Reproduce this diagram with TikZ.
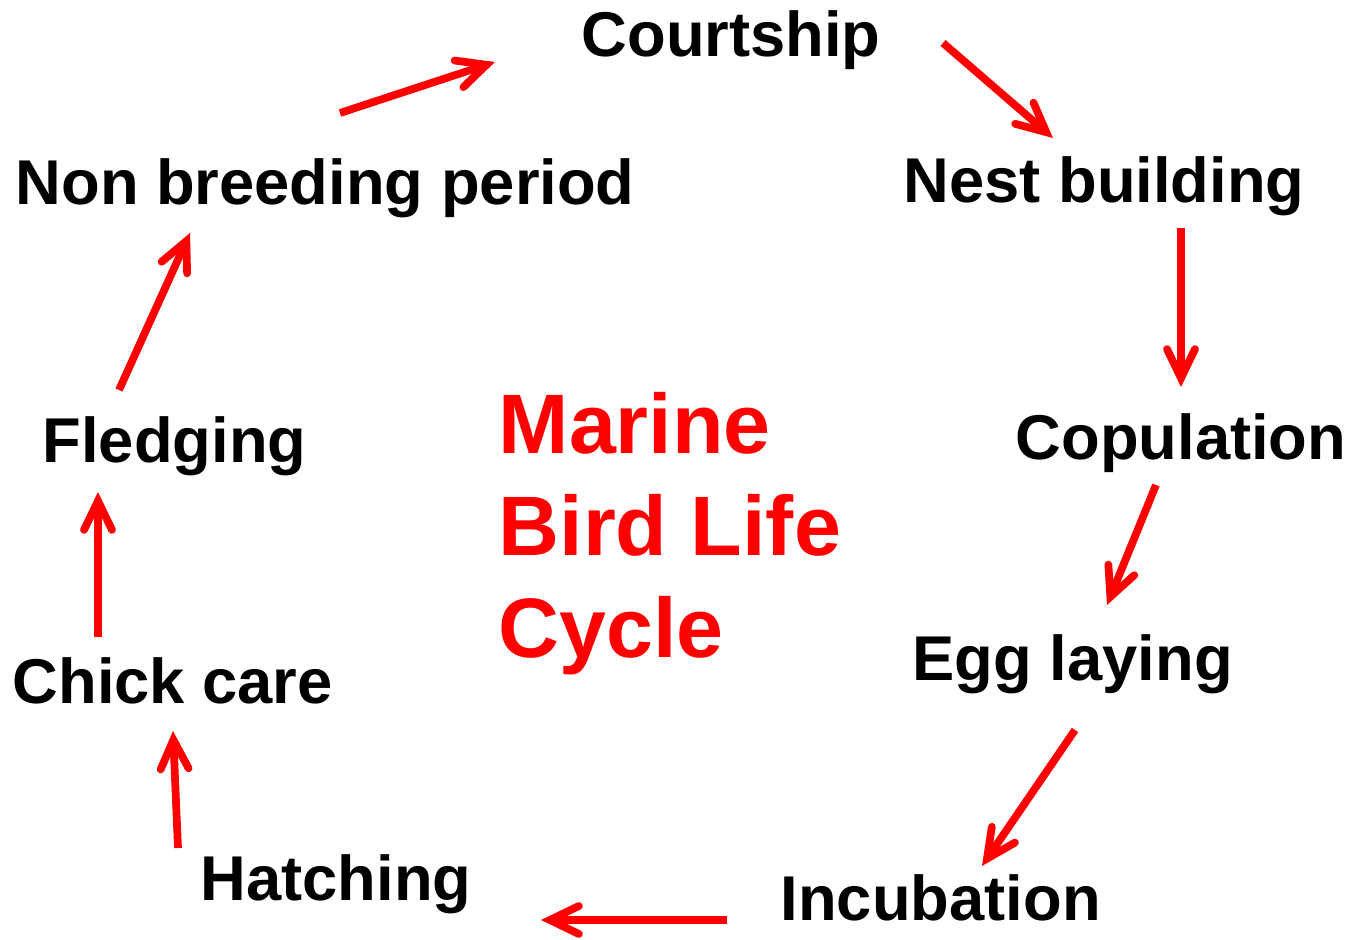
\documentclass[tikz,border=0pt]{standalone}
\usepackage{fontspec}
\setmainfont{Liberation Sans}
\usetikzlibrary{arrows.meta}

\tikzset{
  stage/.style={anchor=base west, inner sep=0pt, font=\bfseries\fontsize{18}{22}\selectfont},
  flow/.style={red, line width=2.2pt, -{Straight Barb[length=2.9mm,width=2.8mm,line cap=round]}},
}

\begin{document}
\begin{tikzpicture}[x=0.01cm,y=-0.01cm]
  \useasboundingbox (0,0) rectangle (1351,940);

  % stages round the cycle
  \node[stage] (court)    at (581,57)  {Courtship};
  \node[stage] (nest)     at (903,203) {Nest building};
  \node[stage] (copul)    at (1015,460) {Copulation};
  \node[stage] (egg)      at (912,680) {Egg laying};
  \node[stage] (incub)    at (780,920) {Incubation};
  \node[stage] (hatch)    at (200,900) {Hatching};
  \node[stage] (chick)    at (12,703)  {Chick care};
  \node[stage] (fledg)    at (42,463)  {Fledging};
  \node[stage] (nonbreed) at (15,205)  {Non breeding period};

  % title in the middle (base is the last line)
  \node[anchor=base west, inner sep=0pt, align=left, red,
        font=\bfseries\fontsize{24}{29}\selectfont] (title) at (498,657)
        {Marine\\Bird Life\\Cycle};

  % arrows, offsets from each label's base west
  \foreach \a/\da/\b/\db in {
      nonbreed/{325,-92}/court/{-86,5},
      court/{362,-14}/nest/{150,-65},
      nest/{278,25}/copul/{166,-73},
      copul/{141,25}/egg/{195,-75},
      egg/{163,50}/incub/{202,-54},
      incub/{-53,0}/hatch/{341,20},
      hatch/{-22,-52}/chick/{161,28},
      chick/{86,-66}/fledg/{56,29},
      fledg/{77,-73}/nonbreed/{175,28}}
    \draw[flow] ([shift={(\da)}]\a.base west) -- ([shift={(\db)}]\b.base west);
\end{tikzpicture}
\end{document}
